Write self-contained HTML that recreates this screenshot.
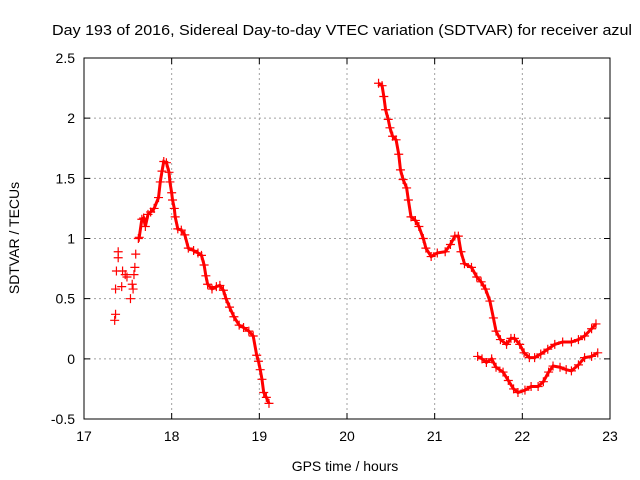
<!DOCTYPE html>
<html><head><meta charset="utf-8"><style>
body{margin:0;background:#fff}
svg{display:block;font-family:"Liberation Sans",sans-serif}
</style></head><body>
<svg id="chart" width="640" height="480">
<text x="342" y="35" font-size="15" textLength="580" lengthAdjust="spacingAndGlyphs" text-anchor="middle">Day 193 of 2016, Sidereal Day-to-day VTEC variation (SDTVAR) for receiver azul</text>
<g id="grid"></g>
<g id="axes"></g>
<g id="series"></g>
<text x="345" y="471" font-size="14" text-anchor="middle">GPS time / hours</text>
<text transform="translate(19,238) rotate(-90)" font-size="14" text-anchor="middle">SDTVAR / TECUs</text>
</svg>
<script>
const xTicks=[17,18,19,20,21,22,23];
const yTicks=[-0.5,0,0.5,1,1.5,2,2.5];
const yTickLabels=["-0.5","0","0.5","1","1.5","2","2.5"];
const segAHours=[17.35,17.36,17.36,17.37,17.39,17.39,17.43,17.44,17.47,17.49,17.53,17.55,17.56,17.57,17.58,17.59,17.62,17.63,17.66,17.68,17.70,17.73,17.76,17.80,17.85,17.87,17.89,17.91,17.94,17.97,17.98,18.00,18.01,18.03,18.04,18.07,18.11,18.15,18.19,18.25,18.30,18.34,18.37,18.39,18.41,18.46,18.51,18.55,18.59,18.62,18.66,18.71,18.77,18.82,18.88,18.93,18.97,18.99,19.01,19.03,19.05,19.08,19.11];
const segAValues=[0.32,0.37,0.58,0.73,0.84,0.89,0.60,0.73,0.70,0.68,0.50,0.62,0.58,0.70,0.76,0.87,1.00,1.01,1.16,1.17,1.10,1.20,1.22,1.25,1.34,1.47,1.56,1.64,1.63,1.55,1.47,1.38,1.32,1.25,1.18,1.08,1.07,1.03,0.92,0.90,0.88,0.86,0.78,0.69,0.62,0.58,0.60,0.61,0.57,0.50,0.43,0.35,0.28,0.26,0.23,0.19,0.03,-0.02,-0.09,-0.17,-0.28,-0.32,-0.37];
const segBHours=[20.36,20.40,20.42,20.44,20.47,20.49,20.52,20.56,20.59,20.61,20.64,20.68,20.70,20.73,20.78,20.82,20.87,20.90,20.96,21.03,21.12,21.18,21.23,21.27,21.30,21.34,21.42,21.48,21.53,21.58,21.63,21.67,21.70,21.75,21.82,21.87,21.91,21.97,22.02,22.08,22.14,22.21,22.29,22.37,22.46,22.56,22.64,22.71,22.79,22.84];
const segBValues=[2.29,2.27,2.18,2.07,1.99,1.92,1.85,1.82,1.70,1.57,1.49,1.42,1.32,1.18,1.15,1.10,1.00,0.92,0.85,0.88,0.89,0.95,1.02,1.02,0.89,0.79,0.76,0.68,0.64,0.58,0.48,0.34,0.23,0.16,0.12,0.17,0.17,0.12,0.05,0.01,0.01,0.04,0.08,0.12,0.14,0.14,0.16,0.19,0.25,0.29];
const segCHours=[21.49,21.54,21.59,21.65,21.70,21.78,21.84,21.90,21.95,22.03,22.10,22.18,22.24,22.30,22.35,22.43,22.50,22.56,22.64,22.71,22.79,22.86];
const segCValues=[0.02,0.00,-0.03,0.00,-0.07,-0.11,-0.18,-0.25,-0.28,-0.26,-0.23,-0.23,-0.19,-0.11,-0.06,-0.07,-0.09,-0.10,-0.05,0.01,0.02,0.05];

const L=84,R=610,T=58,B=419;
const xs=h=>L+(h-17)/6*(R-L);
const ys=v=>B-(v+0.5)/3*(B-T);
const NS="http://www.w3.org/2000/svg";
function mk(tag,parent){const e=document.createElementNS(NS,tag);parent.appendChild(e);return e;}
const grid=document.getElementById('grid'),axes=document.getElementById('axes'),series=document.getElementById('series');

xTicks.forEach((t,i)=>{
  const x=xs(t);
  if(i>0&&i<xTicks.length-1){const g=mk('line',grid);
  
  
  g.setAttribute('x1',x);g.setAttribute('x2',x);g.setAttribute('y1',T);g.setAttribute('y2',B);
  g.setAttribute('stroke','#a0a0a0');g.setAttribute('stroke-dasharray','2,3');}
  const tk=mk('path',axes);
  
  
  tk.setAttribute('d',`M${x},${B}v-6M${x},${T}v6`);tk.setAttribute('stroke','#000');
  const tx=mk('text',axes);
  
  
  tx.setAttribute('x',x);tx.setAttribute('y',B+22);tx.setAttribute('font-size','14');tx.setAttribute('text-anchor','middle');
  tx.textContent=t;
});
yTicks.forEach((t,i)=>{
  const y=ys(t);
  if(i>0&&i<yTicks.length-1){const g=mk('line',grid);
  
  
  g.setAttribute('x1',L);g.setAttribute('x2',R);g.setAttribute('y1',y);g.setAttribute('y2',y);
  g.setAttribute('stroke','#a0a0a0');g.setAttribute('stroke-dasharray','2,3');}
  const tk=mk('path',axes);
  
  
  tk.setAttribute('d',`M${L},${y}h6M${R},${y}h-6`);tk.setAttribute('stroke','#000');
  const tx=mk('text',axes);
  
  
  tx.setAttribute('x',L-9);tx.setAttribute('y',y+5);tx.setAttribute('font-size','14');tx.setAttribute('text-anchor','end');
  tx.textContent=yTickLabels[i];
});
const fr=mk('rect',axes);


fr.setAttribute('x',L);fr.setAttribute('y',T);fr.setAttribute('width',R-L);fr.setAttribute('height',B-T);
fr.setAttribute('fill','none');fr.setAttribute('stroke','#000');

function drawSeg(hours,vals,name,lineStart){
  const pl=mk('polyline',series);
  
  
  pl.setAttribute('points',hours.slice(lineStart).map((h,i)=>xs(h)+','+ys(vals[i+lineStart])).join(' '));
  pl.setAttribute('fill','none');pl.setAttribute('stroke','#f00');pl.setAttribute('stroke-width','3');
  hours.forEach((h,i)=>{
    const p=mk('path',series);
    
    
    const x=xs(h),y=ys(vals[i]);
    p.setAttribute('d',`M${x-4.5},${y}h9M${x},${y-4.5}v9`);
    p.setAttribute('stroke','#f00');p.setAttribute('stroke-width','1.2');
  });
}
drawSeg(segAHours,segAValues,'evening-segment',16);
drawSeg(segBHours,segBValues,'night-upper-segment',0);
drawSeg(segCHours,segCValues,'night-lower-segment',0);
</script>
</body></html>
